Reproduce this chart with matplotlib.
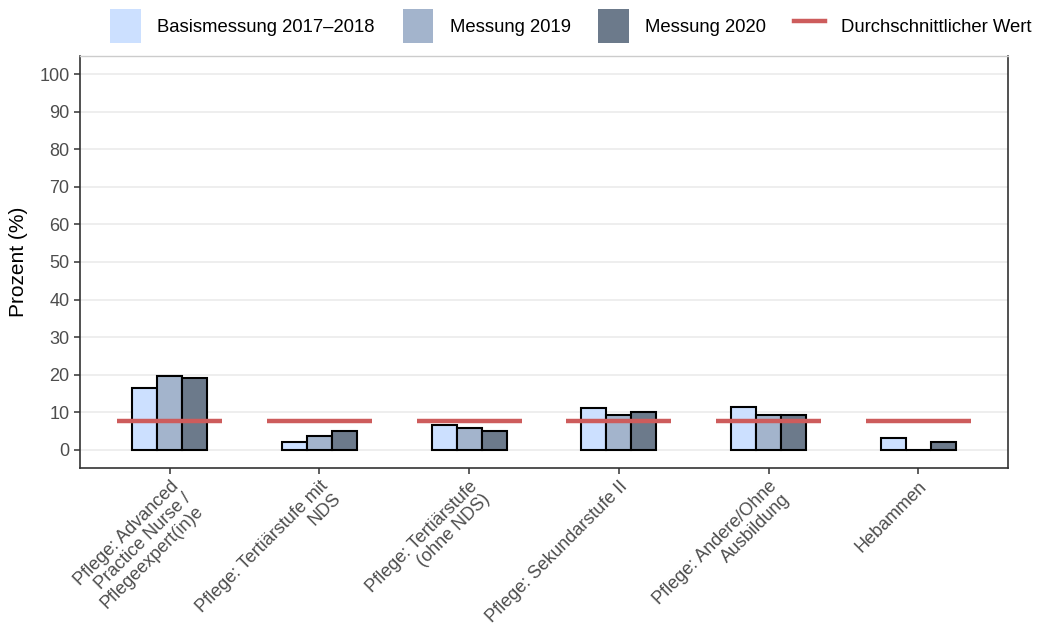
import matplotlib.pyplot as plt
from matplotlib.patches import Patch
from matplotlib.lines import Line2D
import numpy as np

plt.rcParams['font.family'] = ['Liberation Sans', 'DejaVu Sans']

categories = [
    "Pflege: Advanced\nPractice Nurse /\nPflegeexpert(in)e",
    "Pflege: Tertiärstufe mit\nNDS",
    "Pflege: Tertiärstufe\n(ohne NDS)",
    "Pflege: Sekundarstufe II",
    "Pflege: Andere/Ohne\nAusbildung",
    "Hebammen",
]
series_names = ["Basismessung 2017–2018", "Messung 2019", "Messung 2020"]
basis = [16.5, 2.0, 6.7, 11.1, 11.3, 3.2]
m2019 = [19.8, 3.6, 5.8, 9.3, 9.4, 0.0]
m2020 = [19.1, 5.0, 5.1, 10.0, 9.2, 2.2]
average = [7.6, 7.6, 7.6, 7.6, 7.6, 7.6]
avg_name = "Durchschnittlicher Wert"

colors = ["#cce0ff", "#a3b4cc", "#6c7a8b"]
red = "#cd5c5c"

fig = plt.figure(figsize=(10.4, 6.26), dpi=100)
ax = fig.add_axes([80 / 1040, 1 - 468 / 626, 928 / 1040, 412 / 626])

x = np.arange(len(categories))
w = 0.167
for i, vals in enumerate([basis, m2019, m2020]):
    ax.bar(x + (i - 1) * w, vals, width=w, color=colors[i], edgecolor="black",
           linewidth=1.5, zorder=3)

# average line per group, drawn over the bars
for xi, v in zip(x, average):
    ax.plot([xi - 0.35, xi + 0.35], [v, v], color=red, linewidth=3.2,
            solid_capstyle="butt", zorder=4)

ax.set_xlim(-0.6, 5.6)
ax.set_ylim(-4.8, 104.8)
ax.set_yticks(range(0, 101, 10))
ax.set_xticks(x)
ax.set_xticklabels(categories, rotation=45, ha="right", va="top",
                   rotation_mode="anchor", fontsize=13, color="#4d4d4d",
                   linespacing=1.05)
ax.tick_params(axis="y", labelsize=13, labelcolor="#4d4d4d", length=4,
               width=1.1, color="#333333")
ax.tick_params(axis="x", length=4, width=1.1, color="#333333", pad=3)
ax.set_ylabel("Prozent (%)", fontsize=15, labelpad=8)
ax.grid(axis="y", color="#ebebeb", linewidth=1.2, zorder=0)
ax.set_axisbelow(True)

for side in ["left", "bottom", "right"]:
    ax.spines[side].set_color("#333333")
    ax.spines[side].set_linewidth(1.2)
ax.spines["top"].set_color("#cccccc")
ax.spines["top"].set_linewidth(1.0)

handles = [Patch(facecolor=c, edgecolor="none") for c in colors]
handles.append(Line2D([0], [0], color=red, linewidth=3.2))
fig.legend(handles, series_names + [avg_name], loc="center",
           bbox_to_anchor=(571 / 1040, 1 - 26 / 626), ncol=4, frameon=False,
           fontsize=13.3, handlelength=1.65, handleheight=2.4,
           handletextpad=0.9, columnspacing=1.5)

fig.savefig("out.png", dpi=100)
